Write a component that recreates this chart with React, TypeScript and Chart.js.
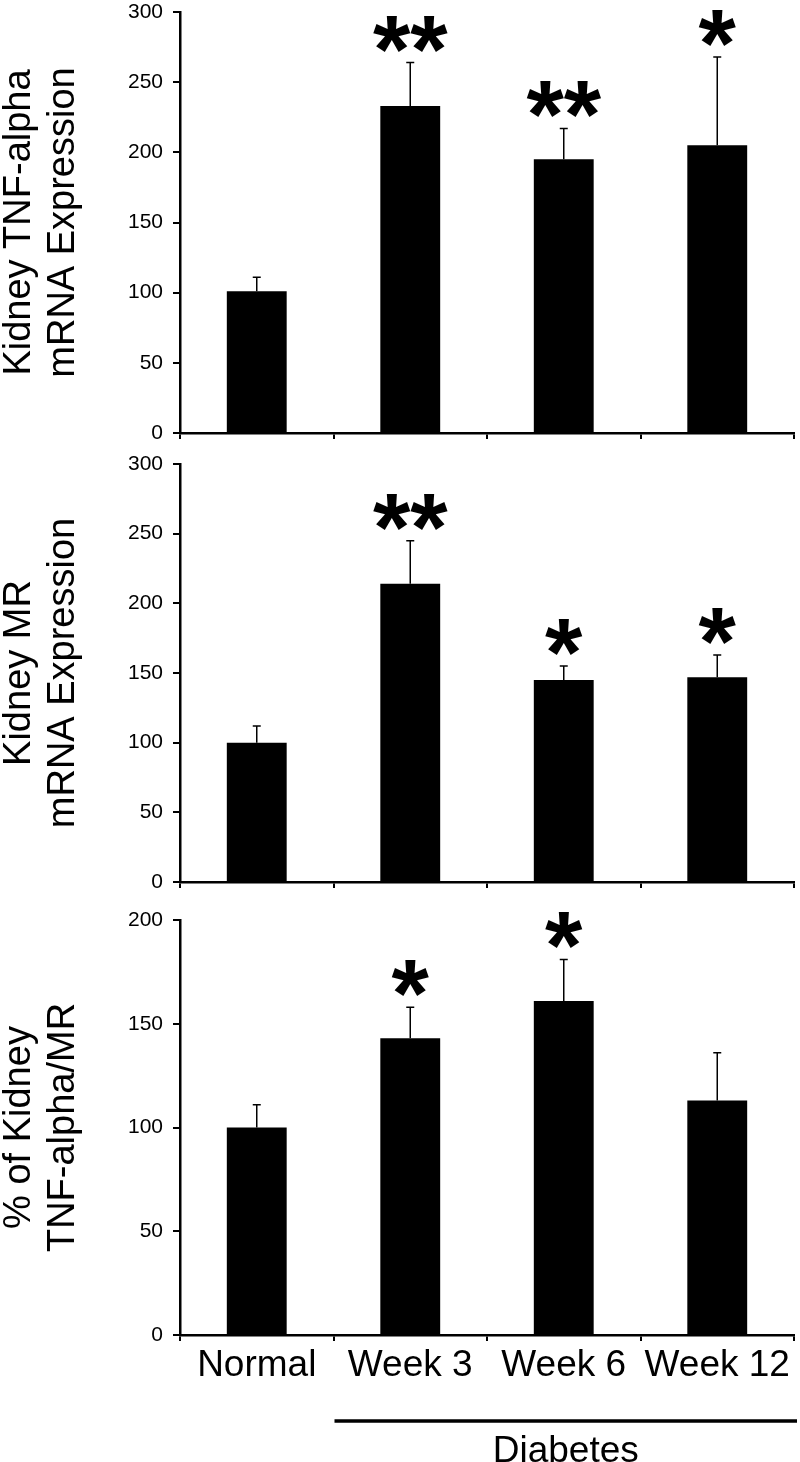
import React, { useEffect, useRef } from 'react';
import { Chart, registerables } from 'chart.js';

Chart.register(...registerables);

const categories = ['Normal', 'Week 3', 'Week 6', 'Week 12'];

const tnfMeans = [101, 233, 195, 205];
const tnfSem = [10, 31, 22, 63];
const tnfSig = ['', '**', '**', '*'];

const mrMeans = [100, 214, 145, 147];
const mrSem = [12, 31, 10, 16];
const mrSig = ['', '**', '*', '*'];

const ratioMeans = [100, 143, 161, 113];
const ratioSem = [11, 15, 20, 23];
const ratioSig = ['', '*', '*', ''];

const tnfTitle = ['Kidney TNF-alpha', 'mRNA Expression'];
const mrTitle = ['Kidney MR', 'mRNA Expression'];
const ratioTitle = ['% of Kidney', 'TNF-alpha/MR'];
const groupLabel = 'Diabetes';

const FONT = "'Liberation Sans', Arial, Helvetica, sans-serif";

const annotatePlugin = {
  id: 'annotate',
  afterDatasetsDraw(chart: any, _args: any, opts: any) {
    const { ctx } = chart;
    const meta = chart.getDatasetMeta(0);
    const ys = chart.scales.y;
    const { means, sems, sig } = opts;
    ctx.save();
    meta.data.forEach((bar: any, i: number) => {
      const x = bar.x;
      const base = ys.getPixelForValue(means[i]);
      const top = ys.getPixelForValue(means[i] + sems[i]);
      ctx.strokeStyle = '#000';
      ctx.lineWidth = 1.5;
      ctx.beginPath();
      ctx.moveTo(x, base);
      ctx.lineTo(x, top);
      ctx.moveTo(x - 4, top);
      ctx.lineTo(x + 4, top);
      ctx.stroke();
      if (sig[i]) {
        ctx.fillStyle = '#000';
        ctx.font = `bold 96px ${FONT}`;
        ctx.textAlign = 'center';
        ctx.textBaseline = 'alphabetic';
        const m = ctx.measureText(sig[i]);
        const yb = top - 11 - m.actualBoundingBoxDescent;
        ctx.fillText(sig[i], x, yb);
      }
    });
    ctx.restore();
  },
  afterDraw(chart: any, _args: any, opts: any) {
    if (!opts.group) return;
    const { ctx, chartArea } = chart;
    const xs = chart.scales.x;
    const left = (xs.getPixelForValue(0) + xs.getPixelForValue(1)) / 2 + 1;
    const right = chartArea.right + 3;
    const ly = chartArea.bottom + 86;
    ctx.save();
    ctx.strokeStyle = '#000';
    ctx.lineWidth = 3.5;
    ctx.beginPath();
    ctx.moveTo(left, ly);
    ctx.lineTo(right, ly);
    ctx.stroke();
    ctx.fillStyle = '#000';
    ctx.font = `37px ${FONT}`;
    ctx.textAlign = 'center';
    ctx.textBaseline = 'alphabetic';
    ctx.fillText(opts.group, (left + right) / 2, chartArea.bottom + 127);
    ctx.restore();
  },
};

type PanelProps = {
  top: number;
  height: number;
  padTop: number;
  xHeight: number;
  max: number;
  means: number[];
  sems: number[];
  sig: string[];
  title: string[];
  showX: boolean;
  group?: string;
};

function Panel(p: PanelProps) {
  const ref = useRef<HTMLCanvasElement | null>(null);
  useEffect(() => {
    if (!ref.current) return;
    const chart = new Chart(ref.current, {
      type: 'bar',
      data: {
        labels: categories,
        datasets: [
          {
            data: p.means,
            backgroundColor: '#000',
            borderWidth: 0,
            barPercentage: 0.39,
            categoryPercentage: 1,
          },
        ],
      },
      options: {
        responsive: false,
        animation: false,
        layout: { padding: { top: p.padTop, right: 6, bottom: 0, left: 0 } },
        plugins: {
          legend: { display: false },
          tooltip: { enabled: false },
          // @ts-ignore
          annotate: { means: p.means, sems: p.sems, sig: p.sig, group: p.group },
        },
        scales: {
          x: {
            offset: true,
            grid: {
              display: true,
              drawOnChartArea: false,
              drawTicks: true,
              tickLength: 6,
              color: '#000',
              lineWidth: 2,
              offset: true,
            },
            border: { display: true, color: '#000', width: 2.5 },
            ticks: {
              display: p.showX,
              color: '#000',
              font: { family: FONT, size: 37 },
              padding: 3,
              maxRotation: 0,
              autoSkip: false,
            },
            afterFit: (s: any) => {
              s.height = p.xHeight;
              s.paddingLeft = 0;
              s.paddingRight = 0;
              s.paddingTop = 0;
              s.paddingBottom = 0;
            },
          },
          y: {
            min: 0,
            max: p.max,
            ticks: {
              stepSize: 50,
              color: '#000',
              font: { family: FONT, size: 21 },
              padding: 10,
            },
            grid: {
              drawOnChartArea: false,
              drawTicks: true,
              tickLength: 7,
              color: '#000',
              lineWidth: 2,
            },
            border: { display: true, color: '#000', width: 2.5 },
            title: {
              display: true,
              text: p.title,
              color: '#000',
              font: { family: FONT, size: 38, lineHeight: '44px' },
              padding: { top: -2, bottom: 0 },
            },
            afterFit: (s: any) => {
              s.width = 180;
              s.paddingLeft = 0;
              s.paddingRight = 0;
              s.paddingTop = 0;
              s.paddingBottom = 0;
            },
          },
        },
      },
      plugins: [annotatePlugin as any],
    } as any);
    return () => chart.destroy();
  }, []);
  return (
    <canvas
      ref={ref}
      width={800}
      height={p.height}
      style={{ position: 'absolute', left: 0, top: p.top, display: 'block' }}
    />
  );
}

export default function App() {
  return (
    <div
      style={{
        position: 'absolute',
        left: 0,
        top: 0,
        width: 800,
        height: 1462,
        background: '#fff',
        overflow: 'hidden',
      }}
    >
      <Panel top={0} height={445} padTop={12} xHeight={12} max={300} means={tnfMeans} sems={tnfSem} sig={tnfSig} title={tnfTitle} showX={false} />
      <Panel top={445} height={450} padTop={19} xHeight={13} max={300} means={mrMeans} sems={mrSem} sig={mrSig} title={mrTitle} showX={false} />
      <Panel top={895} height={567} padTop={25} xHeight={127} max={200} means={ratioMeans} sems={ratioSem} sig={ratioSig} title={ratioTitle} showX={true} group={groupLabel} />
    </div>
  );
}
